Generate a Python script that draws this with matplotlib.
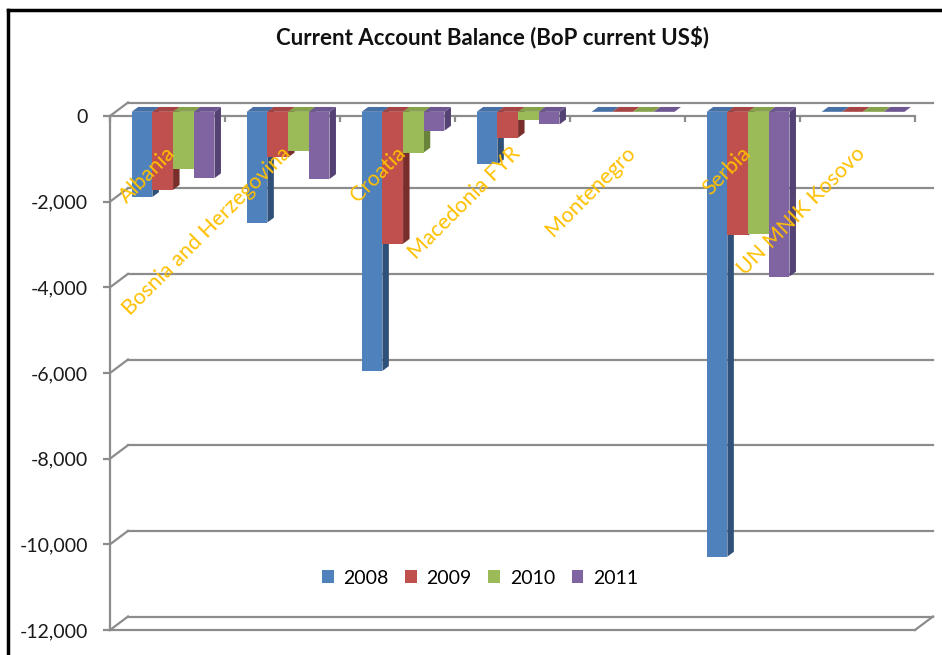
import matplotlib
matplotlib.use("Agg")
import matplotlib.pyplot as plt
from matplotlib.patches import Polygon, Patch
from matplotlib.lines import Line2D
from matplotlib.ticker import FuncFormatter

plt.rcParams['font.family'] = ['Lato', 'DejaVu Sans']

# ---------------- data ----------------
countries = ["Albania", "Bosnia and Herzegovina", "Croatia", "Macedonia FYR",
             "Montenegro", "Serbia", "UN MNIK Kosovo"]
years = ["2008", "2009", "2010", "2011"]
v2008 = [-1990, -2585, -6050, -1225, 0, -10385, 0]
v2009 = [-1820, -1065, -3080, -605, 0, -2885, 0]
v2010 = [-1340, -925, -950, -190, 0, -2850, 0]
v2011 = [-1550, -1570, -440, -295, 0, -3845, 0]
series = [v2008, v2009, v2010, v2011]
yticks = [0, -2000, -4000, -6000, -8000, -10000, -12000]
title = "Current Account Balance (BoP current US$)"

front_colors = ["#4F81BD", "#C0504D", "#9BBB59", "#8064A2"]
side_colors = ["#2F5078", "#7A2E2C", "#6A833A", "#554274"]
top_colors = ["#4670A6", "#A64543", "#86A34C", "#6E5690"]
grid_color = "#8C8C8C"
label_color = "#FFC000"

W, H = 942, 655
fig = plt.figure(figsize=(W / 100, H / 100), dpi=100)
ax_l, ax_r, ax_t, ax_b = 110, 915, 116, 630
ax = fig.add_axes([ax_l / W, 1 - ax_b / H, (ax_r - ax_l) / W, (ax_b - ax_t) / H])
ncat = len(countries)
ax.set_xlim(0, ncat)
ax.set_ylim(-12000, 0)
ax.patch.set_alpha(0)

px_x = ncat / (ax_r - ax_l)          # data units per pixel (x)
px_y = 12000 / (ax_b - ax_t)         # data units per pixel (y)
back_dx, back_dy = 18 * px_x, 13.5 * px_y
f_front, f_back = 0.31, 0.67          # depth fractions of bars

# back wall gridlines + left diagonals
for g in yticks:
    ax.plot([0 + back_dx, ncat + back_dx], [g + back_dy, g + back_dy], color=grid_color,
            lw=1.6, clip_on=False, zorder=1)
    ax.plot([0, back_dx], [g, g + back_dy], color=grid_color, lw=1.6, clip_on=False, zorder=1)
# floor (bottom)
ax.plot([0, ncat], [-12000, -12000], color=grid_color, lw=1.6, clip_on=False, zorder=1)
ax.plot([ncat, ncat + back_dx], [-12000, -12000 + back_dy], color=grid_color, lw=1.6,
        clip_on=False, zorder=1)
# front zero line (category axis)
ax.plot([0, ncat], [0, 0], color=grid_color, lw=1.6, clip_on=False, zorder=1)

# spines / ticks
for s in ["top", "right", "bottom"]:
    ax.spines[s].set_visible(False)
ax.spines["left"].set_color(grid_color)
ax.spines["left"].set_linewidth(1.6)
ax.spines["left"].set_zorder(1)
ax.set_yticks(yticks)
ax.yaxis.set_major_formatter(FuncFormatter(lambda v, p: f"{v:,.0f}"))
ax.tick_params(axis="y", length=5, width=1.6, color=grid_color, pad=11,
               labelsize=14, labelcolor="#1a1a1a")
ax.xaxis.set_ticks_position("top")
ax.set_xticks(range(ncat + 1))
ax.set_xticklabels([])
ax.tick_params(axis="x", direction="in", length=4.5, width=1.6, color=grid_color)
ax.set_axisbelow(True)

# bars (pseudo-3D)
bw = 0.18
z = 3
for i in range(ncat):
    for j, vals in enumerate(series):
        v = vals[i]
        x0 = i + 0.5 + (j - 2) * bw
        x1 = x0 + bw
        fx, fy = f_front * back_dx, f_front * back_dy
        bx, by = f_back * back_dx, f_back * back_dy
        side = Polygon([(x1 + fx, 0 + fy), (x1 + fx, v + fy), (x1 + bx, v + by), (x1 + bx, 0 + by)],
                       closed=True, facecolor=side_colors[j], edgecolor="none", clip_on=False, zorder=z)
        ax.add_patch(side)
        z += 1
        top = Polygon([(x0 + fx, fy), (x1 + fx, fy), (x1 + bx, by), (x0 + bx, by)],
                      closed=True, facecolor=top_colors[j], edgecolor="none", clip_on=False, zorder=z)
        ax.add_patch(top)
        z += 1
        ax.bar([x0 + fx], [v], bottom=fy, width=bw, align="edge", color=front_colors[j],
               edgecolor="none", clip_on=False, zorder=z)
        z += 1

# category labels
for i, name in enumerate(countries):
    ax.text(i + 0.5 + 5 * px_x, -34 * px_y, name, rotation=45, rotation_mode="anchor",
            ha="right", va="center", color=label_color, fontsize=15.5, zorder=500)

# legend
handles = [Patch(facecolor=c, edgecolor="none") for c in front_colors]
leg = fig.legend(handles, years, loc="center", bbox_to_anchor=(480 / W, 1 - 578 / H),
                 ncol=4, frameon=False, fontsize=14, handlelength=0.6, handleheight=0.6,
                 handletextpad=0.5, columnspacing=0.85)
leg.set_zorder(600)

# title
fig.text(492 / W, 1 - 37 / H, title, ha="center", va="center", fontsize=16,
         fontweight="bold", color="#111111")

# chart border (left and top visible)
fig.add_artist(Line2D([8 / W, 8 / W], [0, 1 - 10 / H], color="black", lw=2.5))
fig.add_artist(Line2D([8 / W, 1], [1 - 10 / H, 1 - 10 / H], color="black", lw=2.5))

fig.savefig("out.png", dpi=100)
